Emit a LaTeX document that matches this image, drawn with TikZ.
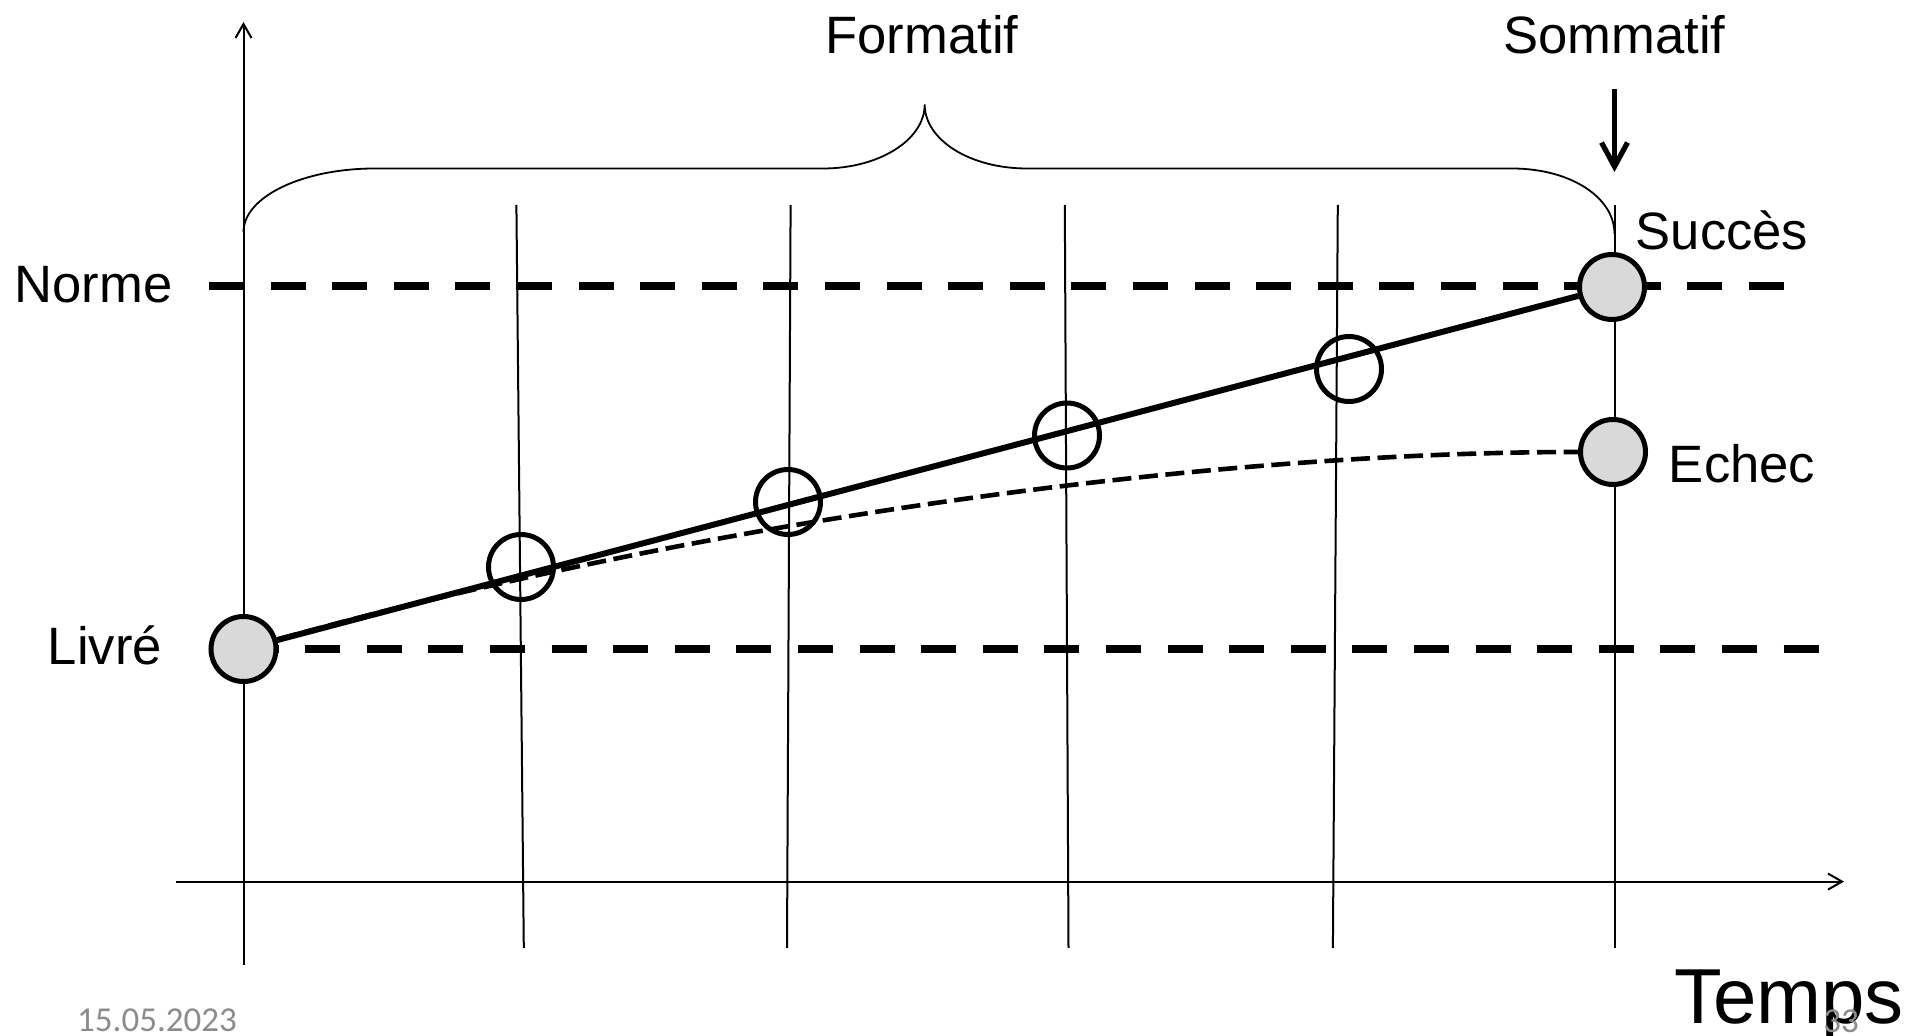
\documentclass[tikz,border=0pt]{standalone}
\usepackage{fontspec}
\setmainfont{Liberation Sans}
\newfontfamily\footfont{Carlito}
\usetikzlibrary{arrows.meta}
\definecolor{Ink}{HTML}{000000}
\definecolor{Dot}{HTML}{D9D9D9}
\definecolor{Foot}{HTML}{8C8C8C}

\begin{document}
\begin{tikzpicture}[
  x=.5pt,
  y=-.5pt,
  every node/.style={
    font=\fontsize{26.3}{30}\selectfont,
    inner sep=0pt
  },
  grid/.style={
    Ink,
    line width=1pt
  },
  axis/.style={
    Ink,
    line width=1pt,
    -{Straight Barb[length=7pt,width=8pt]}
  },
  level/.style={
    Ink,
    line width=4pt,
    dash pattern=on 17.5pt off 13.3pt
  },
  milestone/.style={
    circle,
    draw=Ink,
    fill=Dot,
    line width=2.5pt,
    minimum size=32.5pt
  },
  checkpoint/.style={
    circle,
    draw=Ink,
    line width=2.5pt,
    minimum size=32.5pt
  },
  trend/.style={
    Ink,
    line width=3pt
  },
  drift/.style={
    Ink,
    line width=2.3pt,
    dash pattern=on 9.5pt off 3.8pt
  },
  brace/.style={
    Ink,
    line width=.9pt
  },
  pointer/.style={
    Ink,
    line width=2.6pt,
    -{Straight Barb[length=12pt,width=13pt,line width=2.6pt]}
  }
]
\useasboundingbox (0,0) rectangle (1928,1036);

% axes and time marks
\draw[axis] (176,881.6) -- (1844,881.6);
\draw[axis] (243.5,965) -- (243.5,22);
\foreach \xt/\xb in {516.4/523.8,790.6/787,1064.8/1068.5,1337.8/1332.9,1614.5/1614.5}{
  \draw[grid] (\xt,205) -- (\xb,948);
}

% levels
\draw[level] (209,286.5) -- (1789,286.5);
\draw[level] (243.5,649) -- (1830,649);

% brace over the formative part
\draw[brace] (243.5,232)
  .. controls (243.5,197) and (302,168.5) .. (375,168.5)
  -- (823,168.5)
  .. controls (879,168.5) and (924.7,140) .. (924.7,104.5)
  .. controls (924.7,140) and (970,168.5) .. (1027,168.5)
  -- (1512,168.5)
  .. controls (1570,168.5) and (1614.5,197) .. (1614.5,234);

\node[anchor=base] (formatif) at (922,54) {Formatif};
\node[anchor=base] (sommatif) at (1614.5,54) {Sommatif};
\coordinate (verdict) at (1614.5,172);
\draw[pointer, shorten <=17pt] (sommatif.south) -- (verdict);

% points
\node[milestone] (livre) at (243.5,649) {};
\node[checkpoint] (c1) at (521,567) {};
\node[checkpoint] (c2) at (788,502) {};
\node[checkpoint] (c3) at (1067,435.5) {};
\node[checkpoint] (c4) at (1349,369) {};
\node[milestone] (succes) at (1612,287) {};
\node[milestone] (echec) at (1613,452) {};

\draw[trend] (livre) -- (succes);
\draw[drift] (livre) .. controls (700,522) and (1200,452) .. (echec);

% labels
\node[anchor=base] (norme) at (93.5,302.5) {Norme};
\node[anchor=base] (livrelbl) at (105,665) {Livré};
\node[anchor=base] (succeslbl) at (1722,249.6) {Succès};
\node[anchor=base] (echeclbl) at (1742,483) {Echec};
\node[anchor=base, font=\fontsize{39}{44}\selectfont] (temps) at (1789,1023) {Temps};

% footer
\node[anchor=base, text=Foot, font=\footfont\fontsize{17.5}{20}\selectfont] (date) at (157,1031) {15.05.2023};
\node[anchor=base, text=Foot, font=\footfont\fontsize{17.5}{20}\selectfont] (page) at (1841,1032) {33};

\end{tikzpicture}
\end{document}
